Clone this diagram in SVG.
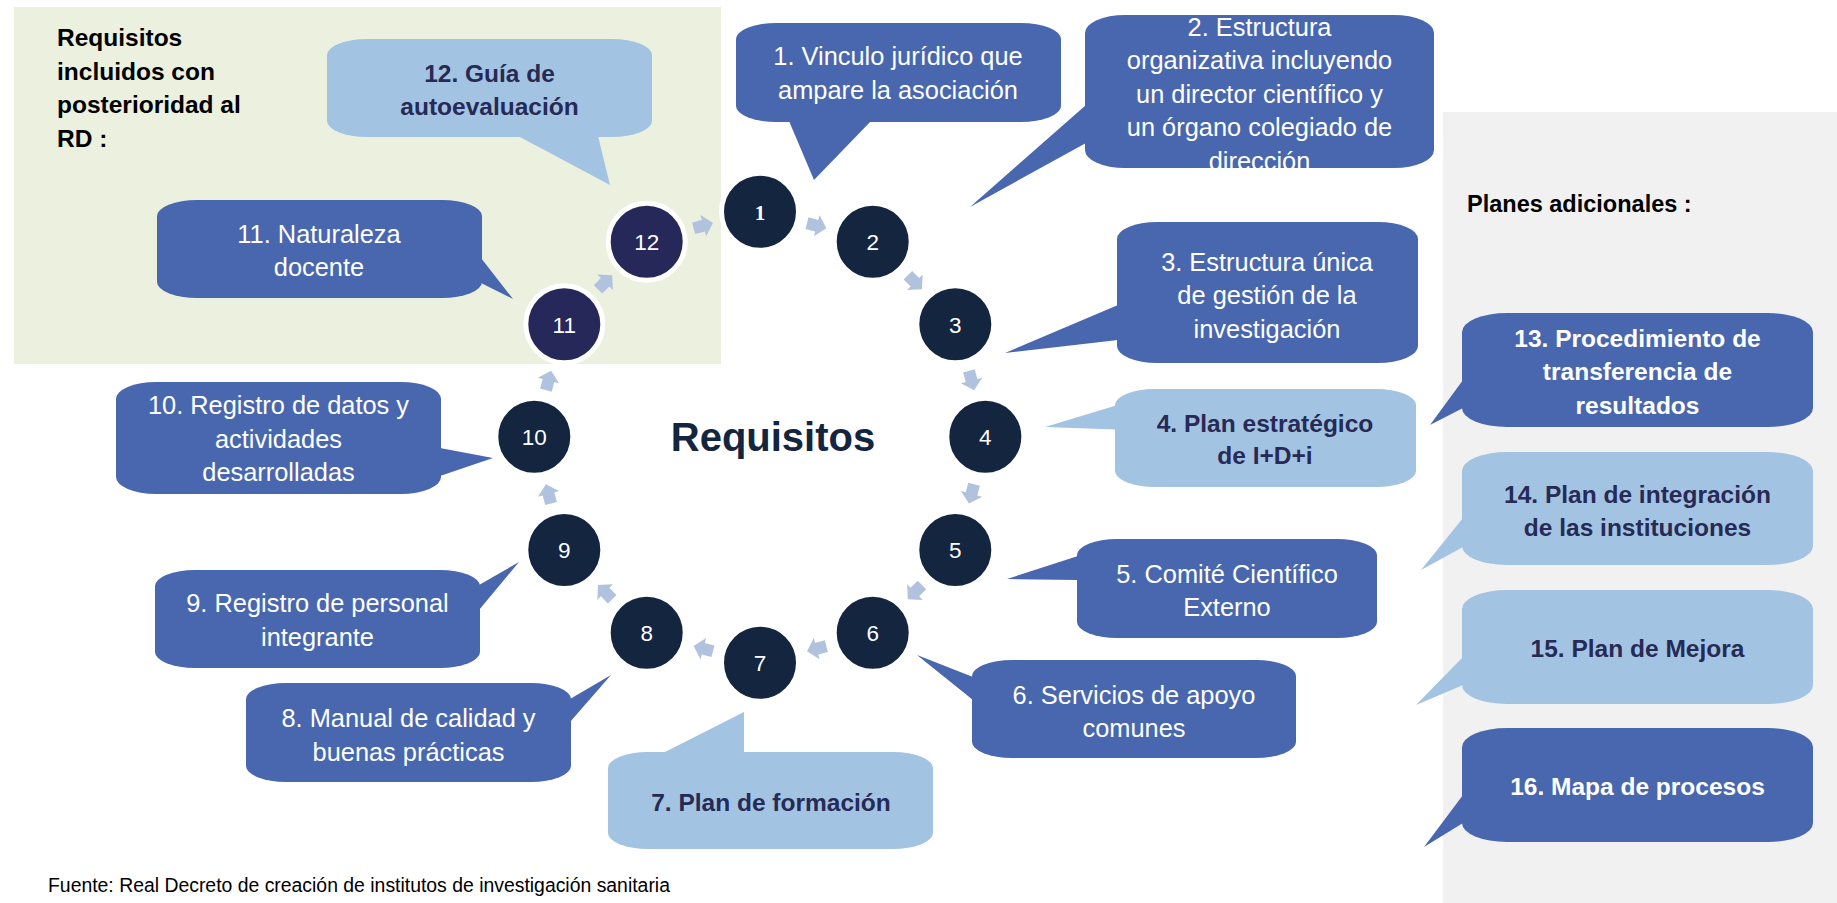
<svg xmlns="http://www.w3.org/2000/svg" xmlns:xlink="http://www.w3.org/1999/xlink" width="1837" height="903" viewBox="0 0 1837 903">
<defs>
<style>
.dk{fill:#4967ae}
.lt{fill:#a3c3e2}
.wt{font-family:"Liberation Sans",Arial,sans-serif;font-size:25.4px;fill:#ffffff;text-anchor:middle}
.bt{font-family:"Liberation Sans",Arial,sans-serif;font-size:24.5px;font-weight:bold;fill:#262a55;text-anchor:middle}
.bw{font-family:"Liberation Sans",Arial,sans-serif;font-size:24.5px;font-weight:bold;fill:#ffffff;text-anchor:middle}
.hd{font-family:"Liberation Sans",Arial,sans-serif;font-size:24.5px;font-weight:bold;fill:#000000}
.cn{fill:#13253f;stroke:#ffffff;stroke-width:5}
.cp{fill:#27285a;stroke:#ffffff;stroke-width:5}
.num{font-family:"Liberation Sans",Arial,sans-serif;font-size:22.5px;fill:#ffffff;text-anchor:middle}
.arr{fill:#b1c2de}
</style>
<path id="ar" d="M-10,-6 L0,-6 L0,-11 L10,0 L0,11 L0,6 L-10,6 Z"/>
</defs>
<rect width="1837" height="903" fill="#ffffff"/>
<g id="panels">
<rect x="14" y="7" width="707" height="357" fill="#ebf0df"/>
<rect x="1443" y="112" width="394" height="791" fill="#f1f1f1"/>
</g>
<g id="titles">
<text class="hd" x="57" y="46">Requisitos</text>
<text class="hd" x="57" y="79.5">incluidos con</text>
<text class="hd" x="57" y="113">posterioridad al</text>
<text class="hd" x="57" y="147">RD :</text>
<text class="hd" x="1467" y="211.5" style="font-size:23.5px">Planes adicionales :</text>
<text x="773" y="451" style="font-family:'Liberation Sans',Arial,sans-serif;font-size:40px;font-weight:bold;fill:#13253f;text-anchor:middle">Requisitos</text>
<text x="48" y="892" style="font-family:'Liberation Sans',Arial,sans-serif;font-size:19.4px;fill:#000000">Fuente: Real Decreto de creación de institutos de investigación sanitaria</text>
</g>
<g id="callout-1">
<rect class="dk" x="736" y="23" width="325" height="99" rx="40" ry="16"/>
<polygon class="dk" points="789,121 871,121 814,180"/>
<text class="wt" x="898" y="65">1. Vinculo jurídico que</text>
<text class="wt" x="898" y="98.5">ampare la asociación</text>
</g>
<g id="callout-2">
<rect class="dk" x="1085" y="15" width="349" height="153" rx="40" ry="18"/>
<polygon class="dk" points="1086,105 1086,143 970,207"/>
<text class="wt" x="1259.5" y="35.5">2. Estructura</text>
<text class="wt" x="1259.5" y="69">organizativa incluyendo</text>
<text class="wt" x="1259.5" y="102.5">un director científico y</text>
<text class="wt" x="1259.5" y="136">un órgano colegiado de</text>
<text class="wt" x="1259.5" y="169.5">dirección</text>
</g>
<g id="callout-3">
<rect class="dk" x="1117" y="222" width="301" height="141" rx="40" ry="17"/>
<polygon class="dk" points="1118,305 1118,340 1005,353"/>
<text class="wt" x="1267" y="270.5">3. Estructura única</text>
<text class="wt" x="1267" y="304">de gestión de la</text>
<text class="wt" x="1267" y="337.5">investigación</text>
</g>
<g id="callout-4">
<rect class="lt" x="1115" y="389" width="301" height="98" rx="40" ry="16"/>
<polygon class="lt" points="1116,405.5 1116,429.5 1045,427"/>
<text class="bt" x="1265" y="431.5">4. Plan estratégico</text>
<text class="bt" x="1265" y="464">de I+D+i</text>
</g>
<g id="callout-5">
<rect class="dk" x="1077" y="539" width="300" height="99" rx="40" ry="16"/>
<polygon class="dk" points="1078,556 1078,580 1007,579"/>
<text class="wt" x="1227" y="583">5. Comité Científico</text>
<text class="wt" x="1227" y="616">Externo</text>
</g>
<g id="callout-6">
<rect class="dk" x="972" y="660" width="324" height="98" rx="40" ry="16"/>
<polygon class="dk" points="973,677 973,700 917,655"/>
<text class="wt" x="1134" y="704">6. Servicios de apoyo</text>
<text class="wt" x="1134" y="737">comunes</text>
</g>
<g id="callout-7">
<rect class="lt" x="608" y="752" width="325" height="97" rx="40" ry="16"/>
<polygon class="lt" points="663,753 744,753 744,712"/>
<text class="bt" x="771" y="810.5">7. Plan de formación</text>
</g>
<g id="callout-8">
<rect class="dk" x="246" y="683" width="325" height="99" rx="40" ry="16"/>
<polygon class="dk" points="570,699 570,722 611,675"/>
<text class="wt" x="408.5" y="727">8. Manual de calidad y</text>
<text class="wt" x="408.5" y="760.5">buenas prácticas</text>
</g>
<g id="callout-9">
<rect class="dk" x="155" y="570" width="325" height="98" rx="40" ry="16"/>
<polygon class="dk" points="479,585 479,610 519,562"/>
<text class="wt" x="317.5" y="612">9. Registro de personal</text>
<text class="wt" x="317.5" y="645.5">integrante</text>
</g>
<g id="callout-10">
<rect class="dk" x="116" y="382" width="325" height="112" rx="40" ry="17"/>
<polygon class="dk" points="440,448 440,476 493,458"/>
<text class="wt" x="278.5" y="414">10. Registro de datos y</text>
<text class="wt" x="278.5" y="447.5">actividades</text>
<text class="wt" x="278.5" y="481">desarrolladas</text>
</g>
<g id="callout-11">
<rect class="dk" x="157" y="200" width="325" height="98" rx="40" ry="16"/>
<polygon class="dk" points="481,258 481,283 513,299"/>
<text class="wt" x="319" y="242.5">11. Naturaleza</text>
<text class="wt" x="319" y="276">docente</text>
</g>
<g id="callout-12">
<rect class="lt" x="327" y="39" width="325" height="98" rx="40" ry="16"/>
<polygon class="lt" points="518,136 598,136 610,185"/>
<text class="bt" x="489.5" y="81.5">12. Guía de</text>
<text class="bt" x="489.5" y="115">autoevaluación</text>
</g>
<g id="callout-13">
<rect class="dk" x="1462" y="313" width="351" height="114" rx="45" ry="19"/>
<polygon class="dk" points="1463,380 1463,408 1430,425"/>
<text class="bw" x="1637.5" y="346.5">13. Procedimiento de</text>
<text class="bw" x="1637.5" y="380">transferencia de</text>
<text class="bw" x="1637.5" y="413.5">resultados</text>
</g>
<g id="callout-14">
<rect class="lt" x="1462" y="452" width="351" height="113" rx="45" ry="19"/>
<polygon class="lt" points="1463,518 1463,547 1421,570"/>
<text class="bt" x="1637.5" y="502.5">14. Plan de integración</text>
<text class="bt" x="1637.5" y="535.5">de las instituciones</text>
</g>
<g id="callout-15">
<rect class="lt" x="1462" y="590" width="351" height="114" rx="45" ry="19"/>
<polygon class="lt" points="1463,657 1463,685 1416,705"/>
<text class="bt" x="1637.5" y="657">15. Plan de Mejora</text>
</g>
<g id="callout-16">
<rect class="dk" x="1462" y="728" width="351" height="114" rx="45" ry="19"/>
<polygon class="dk" points="1463,795 1463,823 1424,847"/>
<text class="bw" x="1637.5" y="795">16. Mapa de procesos</text>
</g>
<g id="connectors">
<use href="#ar" class="arr" transform="translate(816.7,225.7) rotate(15)"/>
<use href="#ar" class="arr" transform="translate(914.9,282.3) rotate(45)"/>
<use href="#ar" class="arr" transform="translate(971.5,380.5) rotate(75)"/>
<use href="#ar" class="arr" transform="translate(971.5,493.9) rotate(105)"/>
<use href="#ar" class="arr" transform="translate(914.9,592.1) rotate(135)"/>
<use href="#ar" class="arr" transform="translate(816.7,648.7) rotate(165)"/>
<use href="#ar" class="arr" transform="translate(703.3,648.7) rotate(195)"/>
<use href="#ar" class="arr" transform="translate(605.1,592.1) rotate(225)"/>
<use href="#ar" class="arr" transform="translate(548.5,493.9) rotate(255)"/>
<use href="#ar" class="arr" transform="translate(548.5,380.5) rotate(285)"/>
<use href="#ar" class="arr" transform="translate(605.1,282.3) rotate(315)"/>
<use href="#ar" class="arr" transform="translate(703.3,225.7) rotate(345)"/>
</g>
<g id="node-1"><circle class="cn" cx="760" cy="211.7" r="38.5"/><text x="760" y="219.5" style="font-family:'Liberation Serif','Times New Roman',serif;font-size:21px;font-weight:bold;fill:#ffffff;text-anchor:middle">1</text></g>
<g id="node-2"><circle class="cn" cx="872.7" cy="241.7" r="38.5"/><text class="num" x="872.7" y="250">2</text></g>
<g id="node-3"><circle class="cn" cx="955.3" cy="324.3" r="38.5"/><text class="num" x="955.3" y="332.6">3</text></g>
<g id="node-4"><circle class="cn" cx="985.3" cy="436.7" r="38.5"/><text class="num" x="985.3" y="445">4</text></g>
<g id="node-5"><circle class="cn" cx="955.3" cy="550" r="38.5"/><text class="num" x="955.3" y="558.3">5</text></g>
<g id="node-6"><circle class="cn" cx="872.7" cy="632.7" r="38.5"/><text class="num" x="872.7" y="641">6</text></g>
<g id="node-7"><circle class="cn" cx="760" cy="662.7" r="38.5"/><text class="num" x="760" y="671">7</text></g>
<g id="node-8"><circle class="cn" cx="646.7" cy="632.7" r="38.5"/><text class="num" x="646.7" y="641">8</text></g>
<g id="node-9"><circle class="cn" cx="564.3" cy="550" r="38.5"/><text class="num" x="564.3" y="558.3">9</text></g>
<g id="node-10"><circle class="cn" cx="534.3" cy="436.7" r="38.5"/><text class="num" x="534.3" y="445">10</text></g>
<g id="node-11"><circle class="cp" cx="564.3" cy="324.3" r="38.5"/><text class="num" x="564.3" y="332.6">11</text></g>
<g id="node-12"><circle class="cp" cx="646.7" cy="241.7" r="38.5"/><text class="num" x="646.7" y="250">12</text></g>
</svg>
